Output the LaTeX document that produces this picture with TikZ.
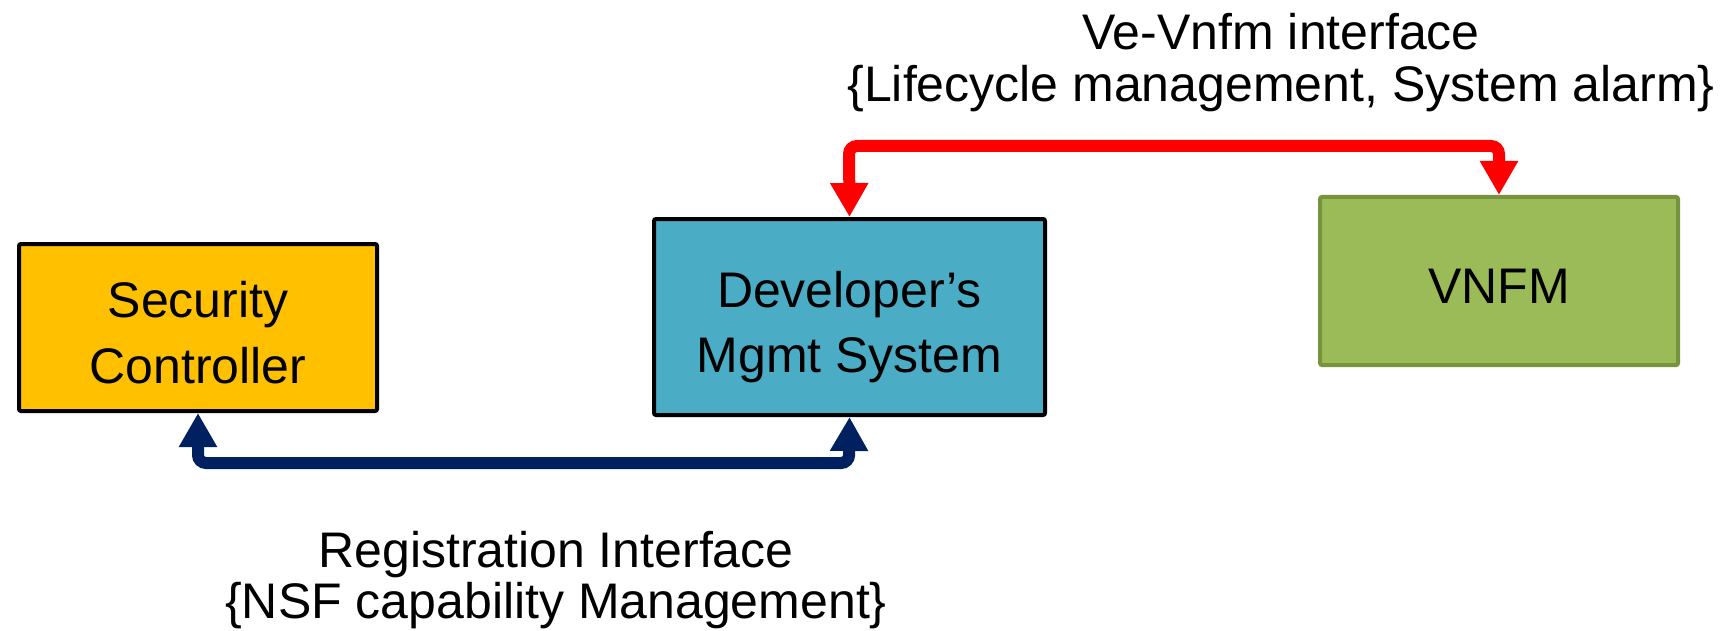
\documentclass[tikz,border=0pt]{standalone}
\usepackage{fontspec}
\setmainfont{Liberation Sans}
\usetikzlibrary{arrows.meta}
\definecolor{secyellow}{HTML}{FFC000}
\definecolor{devblue}{HTML}{4BACC6}
\definecolor{vnfmgreen}{HTML}{9BBB59}
\definecolor{vnfmborder}{HTML}{77933C}
\definecolor{navy}{HTML}{002060}
\definecolor{ifred}{HTML}{FF0000}
\begin{document}
\begin{tikzpicture}[x=0.5pt,y=-0.5pt,
  box/.style={draw, line width=2pt, rounded corners=1pt, inner sep=0pt},
  lbl/.style={font=\fontsize{25}{30}\selectfont, anchor=base, inner sep=0pt},
  conn/.style={line width=6pt, rounded corners=4pt,
    {Triangle[width=18pt,length=17pt]}-{Triangle[width=18pt,length=17pt]}}]
\useasboundingbox (0,0) rectangle (1736,631);
\node[box, fill=secyellow, minimum width=179pt, minimum height=83.5pt] (sec) at (198,327.5) {};
\node[box, fill=devblue, minimum width=195.5pt, minimum height=98pt] (dev) at (849.5,317) {};
\node[box, draw=vnfmborder, fill=vnfmgreen, minimum width=179pt, minimum height=84pt] (vnfm) at (1499,281) {};
\node[lbl] (sec1) at (198,317) {Security};
\node[lbl] (sec2) at (198,383) {Controller};
\node[lbl] (dev1) at (849.5,307) {Developer’s};
\node[lbl] (dev2) at (849.5,372) {Mgmt System};
\node[lbl] (vnfm1) at (1499,303) {VNFM};
\coordinate (r1) at (1499,146);
\coordinate (r2) at (849,146);
\coordinate (b1) at (198,463);
\coordinate (b2) at (849,463);
\draw[conn, ifred] (vnfm.north) -- (r1) -- (r2) -- (dev.north);
\draw[conn, navy] (sec.south) -- (b1) -- (b2) -- (dev.south);
\node[lbl] (t1) at (1281,50) {Ve-Vnfm interface};
\node[lbl] (t2) at (1281,102) {\{Lifecycle management, System alarm\}};
\node[lbl] (t3) at (556,567) {Registration Interface};
\node[lbl] (t4) at (556,618) {\{NSF capability Management\}};
\end{tikzpicture}
\end{document}
